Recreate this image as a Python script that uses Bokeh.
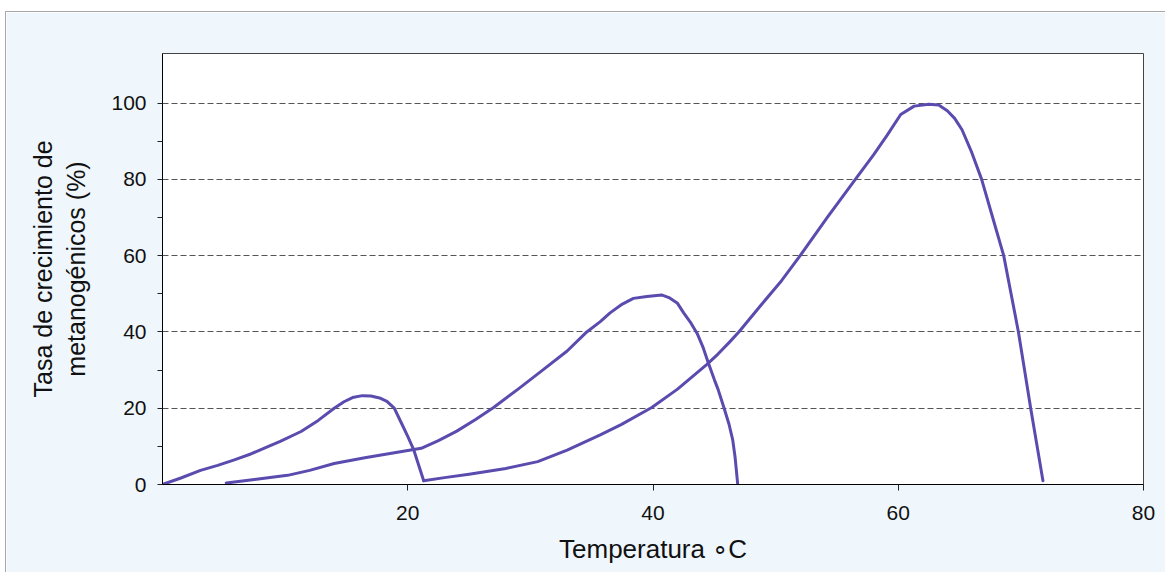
from bokeh.plotting import figure
from bokeh.models import Range1d, FixedTicker
from bokeh.embed import file_html
from bokeh.resources import INLINE

# ---- data ----
psychro_x = [0, 1.5, 3.1, 4.5, 5.8, 7.2, 8.5, 9.6, 11.3, 12.7, 14.0, 14.8, 15.5, 16.3,
             17.0, 17.7, 18.3, 18.9, 19.5, 20.0, 20.5, 20.9, 21.3]
psychro_y = [0, 1.7, 3.7, 5.0, 6.4, 8.0, 9.8, 11.3, 13.9, 16.8, 20.0, 21.7, 22.8, 23.3,
             23.2, 22.7, 21.8, 20.0, 16.0, 12.6, 9.0, 5.0, 1.0]

meso_x = [5.2, 7.5, 10.2, 12.0, 14.0, 16.5, 19.4, 21.1, 22.5, 24.0, 25.5, 27.0, 29.0,
          31.0, 33.0, 34.6, 35.7, 36.5, 37.5, 38.4, 39.5, 40.7, 41.3, 42.0, 42.5, 43.1,
          43.6, 44.1, 44.5, 45.0, 45.3, 45.8, 46.2, 46.5, 46.7, 46.9]
meso_y = [0.4, 1.3, 2.4, 3.7, 5.5, 7.0, 8.6, 9.5, 11.5, 14.0, 17.0, 20.2, 25.0,
          30.0, 35.0, 40.0, 42.7, 45.0, 47.3, 48.8, 49.3, 49.7, 49.0, 47.5, 45.0, 42.3,
          39.6, 35.8, 32.0, 27.5, 25.0, 20.0, 15.8, 11.7, 7.0, 0.3]

thermo_x = [21.3, 23.0, 25.0, 28.0, 30.6, 33.0, 35.7, 37.4, 39.9, 42.0, 44.4, 45.3, 46.2, 47.0,
            48.8, 50.5, 52.0, 54.2, 56.5, 58.0, 59.1, 60.2, 61.3, 62.5, 63.3, 64.0, 64.6,
            65.2, 66.0, 66.8, 67.7, 68.6, 69.2, 69.8, 70.3, 70.8, 71.3, 71.8]
thermo_y = [1.0, 1.8, 2.7, 4.2, 6.0, 9.0, 13.0, 15.7, 20.2, 25.0, 31.5, 34.2, 37.2, 40.0,
            47.0, 53.5, 60.0, 70.0, 80.0, 86.5, 91.6, 97.0, 99.2, 99.7, 99.5, 98.0, 96.0,
            93.0, 87.0, 80.0, 70.0, 60.0, 50.0, 40.0, 30.0, 20.0, 10.5, 1.0]

x_ticks = [20, 40, 60, 80]
y_ticks = [0, 10, 20, 30, 40, 50, 60, 70, 80, 90, 100]
y_labeled = [0, 20, 40, 60, 80, 100]
grid_levels = [20, 40, 60, 80, 100]

x_label = "Temperatura \u2218C"
y_label = "Tasa de crecimiento de\nmetanog\u00e9nicos (%)"

LINE = "#5A4BAF"
BG = "#EFF7FD"
FONT = "Liberation Sans"

p = figure(frame_width=981, frame_height=431,
           min_border_left=156, min_border_top=41, min_border_right=22, min_border_bottom=88,
           x_range=Range1d(0, 80), y_range=Range1d(0, 113),
           output_backend="svg", toolbar_location=None)
p.styles = {"margin-top": "11px", "margin-left": "5px",
            "border-top": "1px solid #A8A8A8", "border-left": "1px solid #A8A8A8"}

p.background_fill_color = "white"
p.border_fill_color = BG
p.outline_line_color = "#444444"
p.outline_line_width = 1

# grid
p.xgrid.visible = False
p.ygrid.ticker = FixedTicker(ticks=grid_levels)
p.ygrid.grid_line_color = "#555555"
p.ygrid.grid_line_dash = "6 3"
p.ygrid.grid_line_width = 1

# axes
p.xaxis.ticker = FixedTicker(ticks=x_ticks)
p.yaxis.ticker = FixedTicker(ticks=y_ticks)
p.yaxis.major_label_overrides = {t: (str(t) if t in y_labeled else "") for t in y_ticks}
p.xaxis.minor_tick_line_color = None
p.yaxis.minor_tick_line_color = None
for ax in (p.xaxis[0], p.yaxis[0]):
    ax.axis_line_color = "black"
    ax.axis_line_width = 1
    ax.major_tick_line_color = "#222222"
    ax.major_tick_in = 0
    ax.major_label_text_font = FONT
    ax.major_label_text_font_size = "21px"
    ax.major_label_text_color = "#111111"
    ax.axis_label_text_font = FONT
    ax.axis_label_text_font_style = "normal"
    ax.axis_label_text_color = "#111111"
p.xaxis.major_tick_out = 6
p.yaxis.major_tick_out = 5
p.xaxis.major_label_standoff = 15
p.yaxis.major_label_standoff = 11

p.xaxis.axis_label = x_label
p.xaxis.axis_label_text_font_size = "26px"
p.xaxis.axis_label_standoff = 11
p.yaxis.axis_label = y_label
p.yaxis.axis_label_text_font_size = "25px"
p.yaxis.axis_label_standoff = 18

# curves
for xs, ys in ((psychro_x, psychro_y), (meso_x, meso_y), (thermo_x, thermo_y)):
    p.line(xs, ys, line_color=LINE, line_width=3, line_join="round", line_cap="round")

open("out.html", "w").write(file_html(p, INLINE))
